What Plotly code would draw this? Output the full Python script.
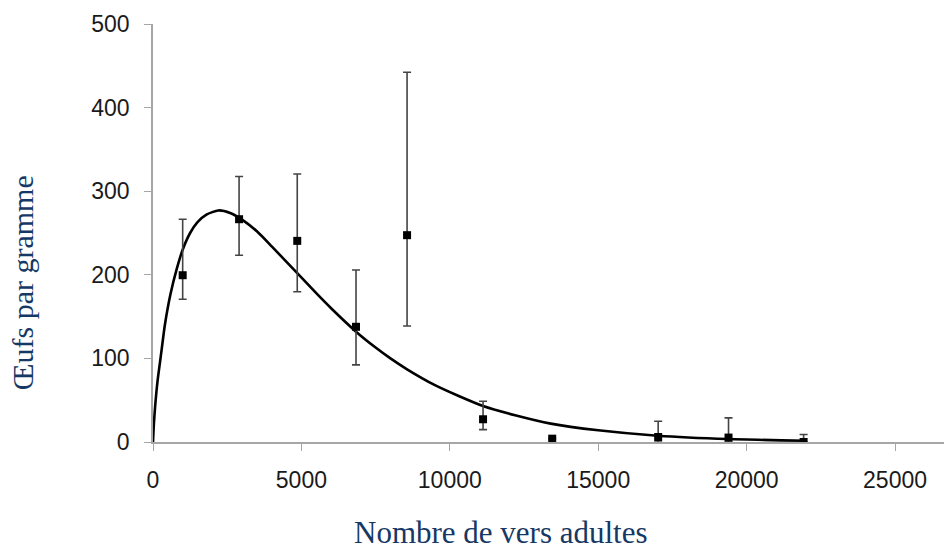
import plotly.graph_objects as go

worms = [1000, 2900, 4860, 6840, 8560, 11120, 13450, 17020, 19390, 21920]
eggs = [199.5, 266.5, 240.6, 137.8, 247.4, 27.2, 4.0, 6.0, 5.3, 0.0]
err_plus = [67.0, 51.1, 79.9, 68.0, 194.9, 21.6, 0.0, 18.8, 23.5, 8.9]
err_minus = [28.8, 43.1, 60.8, 45.5, 108.7, 12.4, 0.0, 6.0, 5.3, 0.0]

# Fitted curve
curve_x = [0, 30, 75, 150, 275, 400, 590, 800, 1000, 1250, 1500, 1800, 2200, 2600,
           3000, 3500, 4000, 4860, 5500, 6000, 6840, 7500, 8000, 8560, 9500, 10300,
           11120, 12200, 13400, 15000, 17000, 19400, 22000]
curve_y = [0, 22, 44, 72, 106, 140, 177, 207, 230, 250, 263, 272, 277, 274,
           266, 252, 234, 202, 178, 160, 132, 113, 100, 87, 68, 55,
           43, 32, 22, 14, 7.5, 3.5, 1.5]

x_ticks = [0, 5000, 10000, 15000, 20000, 25000]
y_ticks = [0, 100, 200, 300, 400, 500]

navy = "#163864"
axis_grey = "#a6a6a6"

fig = go.Figure()
fig.add_trace(go.Scatter(
    x=curve_x, y=curve_y, mode="lines",
    line=dict(color="black", width=2.6, shape="spline", smoothing=0.6),
    hoverinfo="skip", showlegend=False))
fig.add_trace(go.Scatter(
    x=worms, y=eggs, mode="markers",
    marker=dict(symbol="square", size=8, color="black"),
    error_y=dict(type="data", symmetric=False, array=err_plus, arrayminus=err_minus,
                 color="#444444", thickness=1.6, width=4),
    showlegend=False))

fig.update_layout(
    width=944, height=557,
    margin=dict(l=153, r=0, t=24, b=115),
    paper_bgcolor="white", plot_bgcolor="white",
    font=dict(family="Liberation Sans, Arial, sans-serif", color="#1a1a1a"),
    xaxis=dict(range=[0, 26650], tickvals=x_ticks, ticktext=[str(v) for v in x_ticks],
               showgrid=False, zeroline=False, showline=True, linecolor=axis_grey, linewidth=1.6,
               ticks="outside", ticklen=7, tickcolor=axis_grey, tickwidth=1.4,
               tickfont=dict(size=23, color="#1a1a1a"), ticklabelstandoff=10),
    yaxis=dict(range=[0, 500], tickvals=y_ticks, ticktext=[str(v) for v in y_ticks],
               showgrid=False, zeroline=False, showline=True, linecolor=axis_grey, linewidth=1.6,
               ticks="outside", ticklen=7, tickcolor=axis_grey, tickwidth=1.4,
               tickfont=dict(size=23, color="#1a1a1a"), ticklabelstandoff=10),
    annotations=[
        dict(text="Nombre de vers adultes", xref="paper", yref="paper",
             x=(501 - 153) / 791, y=-(532 - 441.7) / 417.7, xanchor="center", yanchor="middle",
             showarrow=False, font=dict(family="Liberation Serif, Times New Roman, serif", size=31, color=navy)),
        dict(text="Œufs par gramme", xref="paper", yref="paper", textangle=-90,
             x=-(153 - 22) / 791, y=(441.7 - 283) / 417.7, xanchor="center", yanchor="middle",
             showarrow=False, font=dict(family="Liberation Serif, Times New Roman, serif", size=30, color=navy)),
    ],
)

fig.write_html("out.html")
